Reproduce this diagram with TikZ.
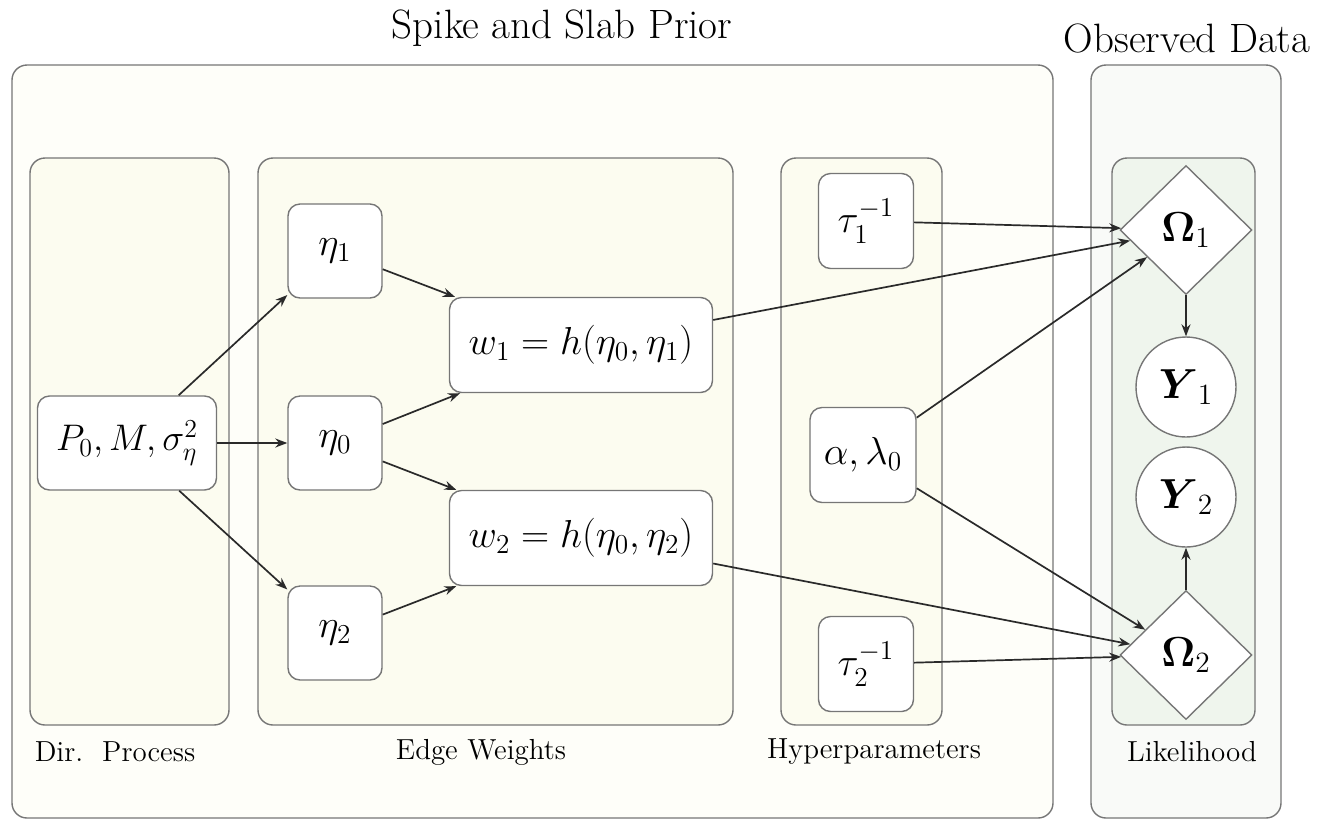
\RequirePackage{fix-cm}
\documentclass[tikz,border=0pt]{standalone}
\usepackage{amsmath}
\usetikzlibrary{arrows.meta,shapes.geometric}
\definecolor{outerfill}{HTML}{FEFEF9}
\definecolor{innerfill}{HTML}{FCFCF0}
\definecolor{obsfill}{HTML}{F9FAF8}
\definecolor{likfill}{HTML}{EFF5ED}
\definecolor{boxline}{HTML}{767676}
\definecolor{arrowc}{HTML}{2A2A2A}
\begin{document}
\begin{tikzpicture}[x=0.5pt,y=-0.5pt,
  container/.style={draw=boxline,line width=0.7pt,rounded corners=7.5pt},
  var/.style={draw=boxline,line width=0.7pt,fill=white,rounded corners=6pt,inner sep=0pt,
    font=\fontsize{19.5}{23}\selectfont},
  dia/.style={diamond,draw=boxline,line width=0.7pt,fill=white,inner sep=0pt,
    minimum width=66pt,minimum height=64.5pt,font=\fontsize{21}{25}\selectfont},
  obs/.style={circle,draw=boxline,line width=0.7pt,fill=white,inner sep=0pt,
    minimum size=50pt,font=\fontsize{21}{25}\selectfont},
  title/.style={font=\fontsize{20.5}{24}\selectfont,inner sep=0pt},
  grouplabel/.style={font=\fontsize{14.5}{17}\selectfont,inner sep=0pt},
  link/.style={draw=arrowc,line width=0.85pt,-{Stealth[length=6pt,width=4.5pt]}}
]
\useasboundingbox (0,0) rectangle (1334,821);
\fill[white] (0,0) rectangle (1334,821);

% containers
\draw[container,fill=outerfill] (12,65) rectangle (1053,818);
\draw[container,fill=obsfill] (1091,65) rectangle (1281,818);
\draw[container,fill=innerfill] (30,158) rectangle (229,725);
\draw[container,fill=innerfill] (258,158) rectangle (733,725);
\draw[container,fill=innerfill] (781,158) rectangle (942,725);
\draw[container,fill=likfill] (1112,158) rectangle (1255,725);

% titles and labels
\node[title] (t1) at (562,28) {Spike and Slab Prior};
\node[title] (t2) at (1187,38) {Observed Data};
\node[grouplabel] (l1) at (115,752) {Dir.\ \ Process};
\node[grouplabel] (l2) at (481,752) {Edge Weights};
\node[grouplabel] (l3) at (874,752) {Hyperparameters};
\node[grouplabel] (l4) at (1192,752) {Likelihood};

% nodes
\node[var,minimum width=89.5pt,minimum height=47pt,font=\fontsize{18.5}{22}\selectfont] (P) at (127,443) {$P_0,M,\sigma^2_\eta$};
\node[var,minimum width=47pt,minimum height=47pt] (e1) at (335,251) {$\eta_1$};
\node[var,minimum width=47pt,minimum height=47pt] (e0) at (335,443) {$\eta_0$};
\node[var,minimum width=47pt,minimum height=47pt] (e2) at (335,633) {$\eta_2$};
\node[var,minimum width=131.5pt,minimum height=47.5pt] (w1) at (581,345) {$w_1=h(\eta_0,\eta_1)$};
\node[var,minimum width=131.5pt,minimum height=47.5pt] (w2) at (581,538) {$w_2=h(\eta_0,\eta_2)$};
\node[var,minimum width=47.5pt,minimum height=47.5pt] (t1n) at (866,221) {$\tau_1^{-1}$};
\node[var,minimum width=53pt,minimum height=47.5pt] (al) at (863,455) {$\alpha,\lambda_0$};
\node[var,minimum width=47.5pt,minimum height=47.5pt] (t2n) at (866,664) {$\tau_2^{-1}$};
\node[dia] (O1) at (1186,230) {$\boldsymbol{\Omega}_1$};
\node[dia] (O2) at (1186,655) {$\boldsymbol{\Omega}_2$};
\node[obs] (Y1) at (1186,387) {$\boldsymbol{Y}_1$};
\node[obs] (Y2) at (1186,497) {$\boldsymbol{Y}_2$};

% connectors
\draw[link] (P) -- (e1);
\draw[link] (P) -- (e0);
\draw[link] (P) -- (e2);
\draw[link] (e1) -- (w1);
\draw[link] (e0) -- (w1);
\draw[link] (e0) -- (w2);
\draw[link] (e2) -- (w2);
\draw[link] (t1n) -- (O1);
\draw[link] (w1) -- (O1);
\draw[link] (al) -- (O1);
\draw[link] (al) -- (O2);
\draw[link] (w2) -- (O2);
\draw[link] (t2n) -- (O2);
\draw[link] (O1) -- (Y1);
\draw[link] (O2) -- (Y2);
\end{tikzpicture}
\end{document}
